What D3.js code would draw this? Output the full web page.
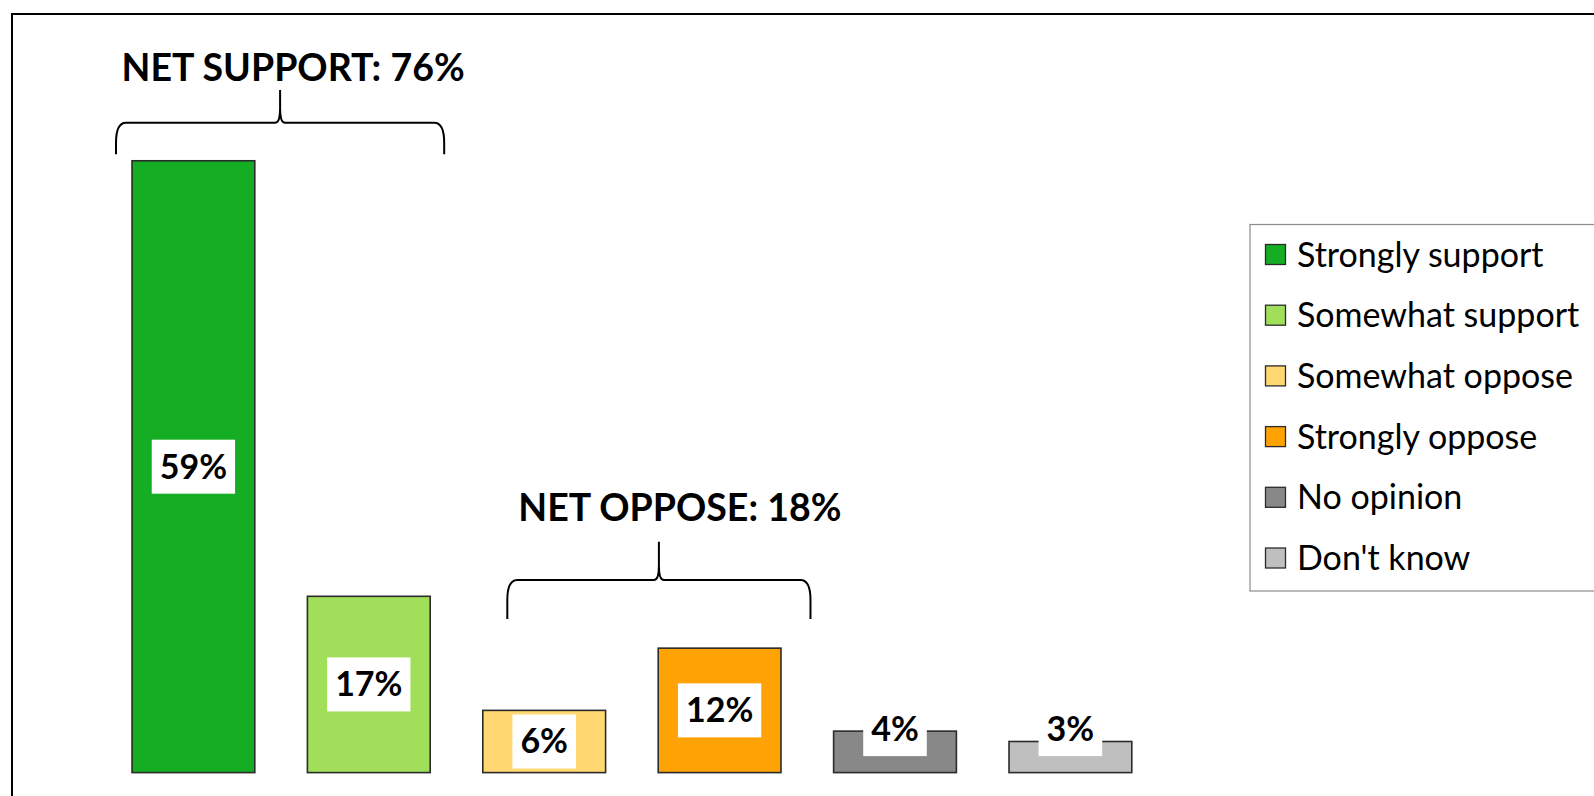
<!DOCTYPE html>
<html>
<head>
<meta charset="utf-8">
<script src="https://cdn.jsdelivr.net/npm/d3@7"></script>
<style>
  html, body { margin: 0; padding: 0; background: #ffffff; }
  svg { display: block; }
</style>
</head>
<body>
<svg id="chart" width="1594" height="796"></svg>
<script>
// Survey responses: share of respondents per answer
const categories = ["Strongly support", "Somewhat support", "Somewhat oppose", "Strongly oppose", "No opinion", "Don't know"];
const values = [59, 17, 6, 12, 4, 3];
const colors = ["#14ad23", "#a1de5a", "#ffd872", "#ffa305", "#888888", "#bfbfbf"];
const valueLabels = ["59%", "17%", "6%", "12%", "4%", "3%"];

// Grouped totals shown above brackets
const groupTitles = ["NET SUPPORT: 76%", "NET OPPOSE: 18%"];
const groupMembers = [[0, 1], [2, 3]];

const FONT = "Lato, 'Open Sans', sans-serif";
const svg = d3.select("#chart");

// Outer frame (continues past the right and bottom edges)
svg.append("rect")
  .attr("x", 12).attr("y", 14)
  .attr("width", 1700).attr("height", 900)
  .attr("fill", "none").attr("stroke", "#000").attr("stroke-width", 2);

const baseline = 772.6;
const x = d3.scaleBand()
  .domain(categories)
  .range([105.7, 105.7 + 175.4 * 6])
  .paddingInner(0.3)
  .paddingOuter(0.15);

const y = d3.scaleLinear()
  .domain([0, 60])
  .range([baseline, baseline - 622.2]);

// Bars
const bars = svg.append("g");
bars.selectAll("rect")
  .data(categories)
  .join("rect")
  .attr("x", d => x(d))
  .attr("y", (d, i) => y(values[i]))
  .attr("width", x.bandwidth())
  .attr("height", (d, i) => y(0) - y(values[i]))
  .attr("fill", (d, i) => colors[i])
  .attr("stroke", "#2b2b2b")
  .attr("stroke-width", 1.6);

// Value labels on white boxes
const boxH = 54;
const labels = svg.append("g");
categories.forEach((c, i) => {
  const top = y(values[i]);
  const h = y(0) - top;
  const cx = x(c) + x.bandwidth() / 2;
  const cy = h >= boxH ? top + h / 2 : baseline - 43.5;
  const g = labels.append("g");
  const rect = g.append("rect").attr("fill", "#fff");
  const t = g.append("text")
    .attr("x", cx).attr("y", cy + 12)
    .attr("text-anchor", "middle")
    .attr("font-family", FONT)
    .attr("font-weight", 700)
    .attr("font-size", 34)
    .attr("fill", "#000")
    .text(valueLabels[i]);
  const w = t.node().getComputedTextLength() + 16;
  rect.attr("x", cx - w / 2).attr("y", cy - boxH / 2)
    .attr("width", w).attr("height", boxH);
});

// Curly brackets with group totals
function bracePath(x0, x1, xm, yBottom, yMid, yTip) {
  const r = 10;
  return [
    `M${x0},${yBottom}`,
    `L${x0},${yMid + r * 2}`,
    `Q${x0},${yMid} ${x0 + r},${yMid}`,
    `L${xm - 5},${yMid}`,
    `Q${xm},${yMid} ${xm},${yMid - 14}`,
    `L${xm},${yTip}`,
    `M${xm},${yMid - 14}`,
    `Q${xm},${yMid} ${xm + 5},${yMid}`,
    `L${x1 - r},${yMid}`,
    `Q${x1},${yMid} ${x1},${yMid + r * 2}`,
    `L${x1},${yBottom}`
  ].join(" ");
}

const braceSpecs = [
  { left: -16, right: 14, bottom: 154.3, mid: 122.7, tip: 90, textY: 80.5, textShift: 13 },
  { left: 24.5, right: 29.5, bottom: 619, mid: 580, tip: 541.7, textY: 521, textShift: 21 }
];

groupMembers.forEach((members, gi) => {
  const spec = braceSpecs[gi];
  const first = categories[members[0]];
  const last = categories[members[members.length - 1]];
  const x0 = x(first) + spec.left;
  const x1 = x(last) + x.bandwidth() + spec.right;
  const xm = (x0 + x1) / 2;
  svg.append("path")
    .attr("d", bracePath(x0, x1, xm, spec.bottom, spec.mid, spec.tip))
    .attr("fill", "none")
    .attr("stroke", "#000")
    .attr("stroke-width", 2);
  svg.append("text")
    .attr("x", xm + spec.textShift)
    .attr("y", spec.textY)
    .attr("text-anchor", "middle")
    .attr("font-family", FONT)
    .attr("font-weight", 700)
    .attr("font-size", 37.5)
    .attr("fill", "#000")
    .text(groupTitles[gi]);
});

// Legend (box runs past the right edge)
const legend = svg.append("g");
legend.append("rect")
  .attr("x", 1250).attr("y", 224.5)
  .attr("width", 400).attr("height", 366.5)
  .attr("fill", "#fff").attr("stroke", "#8c8c8c").attr("stroke-width", 1.2);

const rowY = d3.scalePoint().domain(categories).range([254.5, 558]);
categories.forEach((c, i) => {
  const cy = rowY(c);
  legend.append("rect")
    .attr("x", 1265.5).attr("y", cy - 10)
    .attr("width", 20).attr("height", 20)
    .attr("fill", colors[i]).attr("stroke", "#2b2b2b").attr("stroke-width", 1.3);
  legend.append("text")
    .attr("x", 1297).attr("y", cy + 12)
    .attr("font-family", FONT)
    .attr("font-size", 34)
    .attr("fill", "#000")
    .text(c);
});
</script>
</body>
</html>
